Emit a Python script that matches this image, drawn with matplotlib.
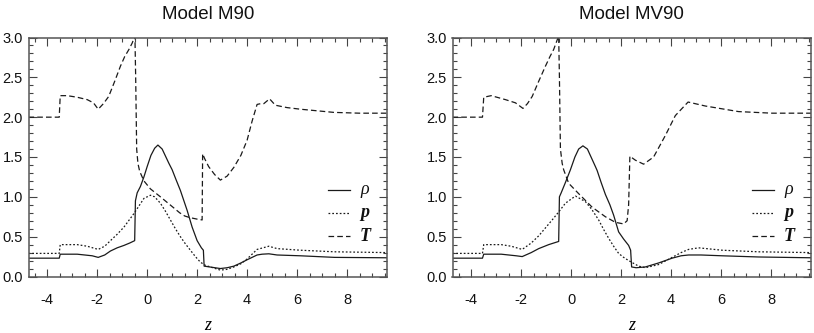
import matplotlib
matplotlib.use("Agg")
import matplotlib.pyplot as plt
from matplotlib.ticker import MultipleLocator

# ---------------- data ----------------
titles = ["Model M90", "Model MV90"]
legend_labels = ["ρ", "p", "T"]

# Model M90
m90_z_rho = [-4.75, -3.52, -3.48, -2.8, -2.2, -1.96, -1.7, -1.47, -1.2, -0.93, -0.7, -0.5, -0.47, -0.4, -0.27,
             -0.13, 0.0, 0.15, 0.3, 0.43, 0.6, 0.87, 1.0, 1.15, 1.33, 1.6, 1.8, 2.0, 2.17, 2.25, 2.28, 2.5,
             2.93, 3.2, 3.47, 3.75, 4.0, 4.4, 4.6, 4.87, 5.2, 6.13, 7.5, 9.6]
m90_rho = [0.23, 0.23, 0.28, 0.28, 0.26, 0.24, 0.27, 0.32, 0.36, 0.39, 0.42, 0.45, 0.95, 1.05, 1.13,
           1.25, 1.38, 1.52, 1.61, 1.65, 1.60, 1.42, 1.34, 1.22, 1.08, 0.83, 0.62, 0.45, 0.36, 0.33, 0.13, 0.12,
           0.10, 0.11, 0.13, 0.17, 0.21, 0.27, 0.28, 0.285, 0.27, 0.26, 0.24, 0.235]

m90_z_p = [-4.75, -3.52, -3.48, -2.8, -2.4, -1.96, -1.7, -1.47, -1.2, -0.93, -0.53, -0.13, 0.13, 0.3, 0.53,
           0.73, 0.93, 1.13, 1.33, 1.53, 1.73, 1.93, 2.13, 2.33, 2.53, 2.93, 3.2, 3.47, 3.75, 4.0, 4.2, 4.4,
           4.87, 5.2, 6.13, 7.5, 9.6]
m90_p = [0.29, 0.29, 0.40, 0.40, 0.38, 0.34, 0.38, 0.45, 0.53, 0.62, 0.79, 0.98, 1.02, 1.00, 0.92,
         0.82, 0.71, 0.60, 0.50, 0.41, 0.33, 0.25, 0.18, 0.14, 0.12, 0.08, 0.09, 0.12, 0.16, 0.22, 0.28, 0.34,
         0.38, 0.35, 0.33, 0.31, 0.30]

m90_z_T = [-4.75, -3.52, -3.48, -3.2, -2.8, -2.4, -2.15, -1.96, -1.75, -1.54, -1.3, -1.07, -0.9, -0.73, -0.6,
           -0.49, -0.46, -0.42, -0.37, -0.3, -0.13, 0.13, 0.53, 0.8, 1.07, 1.3, 1.5, 1.7, 2.0, 2.2, 2.22,
           2.3, 2.46, 2.7, 2.93, 3.2, 3.47, 3.75, 4.0, 4.2, 4.4, 4.55, 4.67, 4.9, 5.13, 5.6, 6.13, 6.8, 7.47,
           8.5, 9.6]
m90_T = [2.0, 2.0, 2.27, 2.27, 2.25, 2.22, 2.18, 2.10, 2.17, 2.26, 2.45, 2.64, 2.76, 2.85, 2.93,
         3.02, 2.5, 1.6, 1.42, 1.32, 1.2, 1.1, 1.0, 0.93, 0.86, 0.8, 0.76, 0.74, 0.72, 0.71, 1.54,
         1.48, 1.38, 1.28, 1.21, 1.26, 1.37, 1.52, 1.71, 1.95, 2.16, 2.17, 2.17, 2.23, 2.15, 2.12, 2.10, 2.08, 2.06,
         2.05, 2.05]

# Model MV90
mv90_z_rho = [-4.75, -3.55, -3.5, -2.8, -2.2, -1.96, -1.6, -1.3, -0.9, -0.5, -0.47, -0.4, -0.23, -0.03, 0.15,
              0.3, 0.47, 0.65, 0.97, 1.04, 1.2, 1.37, 1.55, 1.7, 1.9, 2.1, 2.3, 2.38, 2.42, 2.6, 2.97, 3.5,
              4.04, 4.4, 4.7, 5.2, 6.04, 7.5, 9.6]
mv90_rho = [0.23, 0.23, 0.28, 0.28, 0.26, 0.25, 0.30, 0.35, 0.40, 0.44, 1.0, 1.05, 1.18, 1.34, 1.5,
            1.6, 1.64, 1.6, 1.38, 1.33, 1.18, 1.03, 0.9, 0.77, 0.56, 0.47, 0.39, 0.33, 0.12, 0.11, 0.12, 0.17,
            0.23, 0.26, 0.27, 0.27, 0.26, 0.245, 0.235]

mv90_z_p = [-4.75, -3.55, -3.5, -2.8, -2.4, -1.96, -1.6, -1.3, -1.03, -0.76, -0.5, -0.23, 0.17, 0.57, 0.83,
            1.1, 1.3, 1.5, 1.7, 1.9, 2.1, 2.3, 2.7, 2.97, 3.5, 4.04, 4.4, 4.7, 5.1, 6.04, 7.5, 9.6]
mv90_p = [0.29, 0.29, 0.40, 0.40, 0.38, 0.34, 0.42, 0.51, 0.61, 0.71, 0.81, 0.92, 1.01, 0.94, 0.84,
          0.71, 0.59, 0.48, 0.38, 0.29, 0.24, 0.20, 0.13, 0.11, 0.15, 0.24, 0.30, 0.34, 0.36, 0.33, 0.31, 0.30]

mv90_z_T = [-4.75, -3.55, -3.5, -3.2, -2.63, -2.23, -1.93, -1.75, -1.56, -1.3, -1.03, -0.85, -0.7, -0.5,
            -0.47, -0.43, -0.36, -0.3, -0.1, 0.3, 0.84, 1.37, 1.77, 2.1, 2.24, 2.3, 2.35, 2.57, 2.9, 3.3,
            3.77, 4.17, 4.68, 5.37, 6.7, 8.04, 9.6]
mv90_T = [2.0, 2.0, 2.25, 2.27, 2.22, 2.18, 2.11, 2.17, 2.26, 2.45, 2.64, 2.76, 2.85, 3.02,
          2.5, 1.6, 1.42, 1.34, 1.17, 1.04, 0.87, 0.75, 0.68, 0.66, 0.70, 0.9, 1.51, 1.46, 1.41, 1.5,
          1.77, 2.02, 2.19, 2.14, 2.07, 2.05, 2.05]

panels = [
    (m90_z_rho, m90_rho, m90_z_p, m90_p, m90_z_T, m90_T),
    (mv90_z_rho, mv90_rho, mv90_z_p, mv90_p, mv90_z_T, mv90_T),
]

# ---------------- plot ----------------
W, H = 814, 333
fig = plt.figure(figsize=(W / 100, H / 100), dpi=100)

sans = ["Liberation Sans", "DejaVu Sans"]
serif = ["Liberation Serif", "DejaVu Serif"]

line_col = "#1a1a1a"
styles = [
    dict(linestyle="-"),
    dict(linestyle=(0, (1.4, 1.6))),
    dict(linestyle=(0, (4.5, 2.5))),
]

ax_lefts = [28.5, 452.5]
ax_w = 358.5
ax_top, ax_bot = 37.5, 276.5

for i, (zr, r, zp, p, zt, t) in enumerate(panels):
    ax = fig.add_axes([ax_lefts[i] / W, (H - ax_bot) / H, ax_w / W, (ax_bot - ax_top) / H])
    ax.plot(zr, r, color=line_col, lw=0.9, **styles[0])
    ax.plot(zp, p, color=line_col, lw=0.9, **styles[1])
    ax.plot(zt, t, color=line_col, lw=0.9, **styles[2])

    ax.set_xlim(-4.75, 9.6)
    ax.set_ylim(0, 3.0)
    ax.xaxis.set_major_locator(MultipleLocator(2))
    ax.xaxis.set_minor_locator(MultipleLocator(0.5))
    ax.yaxis.set_major_locator(MultipleLocator(0.5))
    ax.yaxis.set_minor_locator(MultipleLocator(0.1))
    ax.set_yticklabels([f"{v:.1f}" for v in [0.0, 0.5, 1.0, 1.5, 2.0, 2.5, 3.0]][:0] or None) if False else None
    ax.yaxis.set_major_formatter(matplotlib.ticker.FormatStrFormatter("%.1f"))
    ax.xaxis.set_major_formatter(matplotlib.ticker.FormatStrFormatter("%d"))

    ax.tick_params(which="both", direction="in", top=True, right=True, color="#444444", width=0.8)
    ax.tick_params(which="major", length=5.5)
    ax.tick_params(which="minor", length=3)
    ax.tick_params(axis="x", which="major", pad=12)
    ax.tick_params(axis="y", which="major", pad=4)
    for lab in ax.get_xticklabels() + ax.get_yticklabels():
        lab.set_fontfamily(sans)
        lab.set_fontsize(10.5)
        lab.set_color("#111111")
    for sp in ax.spines.values():
        sp.set_color("#555555")
        sp.set_linewidth(1.1)

    ax.set_title(titles[i], fontsize=13.5, family=sans, pad=13, color="#111111")
    ax.set_xlabel("z", fontsize=13, family=serif, style="italic", labelpad=7)

    # legend
    rows_y = [0.362, 0.266, 0.169]
    for k in range(3):
        ax.plot([0.835, 0.897], [rows_y[k], rows_y[k]], transform=ax.transAxes,
                color=line_col, lw=0.9, **styles[k])
        weight = "normal" if k == 0 else "bold"
        ax.text(0.925, rows_y[k], legend_labels[k], transform=ax.transAxes,
                fontsize=13, family=serif, style="italic", weight=weight,
                va="center", ha="left", color="#111111")

fig.savefig("out.png", dpi=100)
